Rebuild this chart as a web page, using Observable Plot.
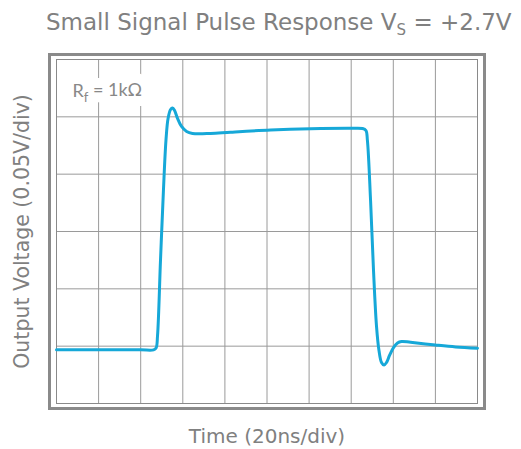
<!DOCTYPE html>
<html><head><meta charset="utf-8">
<script src="https://cdn.jsdelivr.net/npm/d3@7"></script>
<script src="https://cdn.jsdelivr.net/npm/@observablehq/plot@0.6"></script>
<style>
body{margin:0;background:#fff;}
#title{height:45px;font-family:"DejaVu Sans",sans-serif;font-size:23px;color:#808080;white-space:nowrap;padding-left:46px;line-height:44px;}
#title sub{font-size:15px;vertical-align:-5px;line-height:0;}
</style></head><body>
<div id="title">Small Signal Pulse Response V<sub>S</sub> = +2.7V</div>
<div id="chart"></div>
<script>
// time in ns (20 ns/div), output voltage in V (0.05 V/div)
const timeNs = [0, 40.0, 46.1, 47.3, 48.0, 49.4, 50.8, 52.0, 53.0, 54.2, 55.1, 56.1, 57.5, 59.4, 61.8, 64.6, 73.2, 82.7, 101.7, 120.7, 139.7, 145.4, 147.0, 147.7, 149.2, 150.6, 152.0, 153.2, 154.4, 155.6, 156.8, 158.2, 160.1, 162.0, 163.9, 168.2, 180.0, 189.6, 200];
const voltage = [0.0468, 0.0468, 0.0468, 0.0484, 0.0593, 0.1247, 0.1858, 0.2294, 0.2486, 0.2564, 0.2577, 0.2555, 0.2486, 0.2416, 0.2372, 0.2355, 0.2355, 0.2366, 0.2385, 0.2396, 0.2400, 0.2398, 0.2381, 0.2294, 0.1770, 0.1160, 0.0680, 0.0462, 0.0358, 0.0336, 0.0358, 0.0419, 0.0488, 0.0528, 0.0541, 0.0534, 0.0510, 0.0493, 0.0482];
const xGrid = [0, 20, 40, 60, 80, 100, 120, 140, 160, 180, 200];
const yGrid = [0, 0.05, 0.10, 0.15, 0.20, 0.25, 0.30];
const xLabel = "Time (20ns/div)";
const yLabel = "Output Voltage (0.05V/div)";
const annotation = "Rf = 1kΩ";

const data = timeNs.map((t, i) => ({t, v: voltage[i]}));
const gray = "#8a8a8a";
const annotOpts = {frameAnchor: "top-left", dx: 16, dy: 25, lineAnchor: "top", fontSize: 18, fontFamily: "Lato, sans-serif"};

const plot = Plot.plot({
  width: 521, height: 404,
  marginLeft: 56, marginRight: 44, marginTop: 14, marginBottom: 46,
  x: {domain: [0, 200], axis: null},
  y: {domain: [0, 0.3], axis: null},
  style: {fontFamily: "DejaVu Sans, sans-serif", color: "#808080", background: "#fff"},
  marks: [
    Plot.gridX(xGrid, {stroke: "#9a9a9a", strokeOpacity: 1, strokeWidth: 1}),
    Plot.gridY(yGrid, {stroke: "#9a9a9a", strokeOpacity: 1, strokeWidth: 1}),
    Plot.text([annotation], {...annotOpts, fill: "#fff", stroke: "#fff", strokeWidth: 20, strokeLinejoin: "round", className: "annot"}),
    Plot.text([annotation], {...annotOpts, fill: "#888", className: "annot"}),
    Plot.frame({stroke: gray, strokeWidth: 1}),
    Plot.frame({stroke: gray, strokeWidth: 3, insetLeft: -7, insetRight: -7, insetTop: -5, insetBottom: -5}),
    Plot.line(data, {x: "t", y: "v", stroke: "#16a8d8", strokeWidth: 3, curve: "catmull-rom"}),
    Plot.text([yLabel], {frameAnchor: "left", rotate: -90, textAnchor: "middle", lineAnchor: "middle", dx: -34, fontSize: 20.5, fill: "#808080"}),
    Plot.text([xLabel], {frameAnchor: "bottom", textAnchor: "middle", lineAnchor: "middle", dy: 33, fontSize: 20, fill: "#808080"})
  ]
});
document.getElementById("chart").appendChild(plot);

// subscript for R_f
d3.select(plot).selectAll(".annot text").each(function() {
  const t = d3.select(this);
  t.text(null);
  t.append("tspan").text("R");
  t.append("tspan").attr("dy", "0.35em").attr("font-size", 13).text("f");
  t.append("tspan").attr("dy", "-0.35em").text(" = 1kΩ");
});
</script>
</body></html>
